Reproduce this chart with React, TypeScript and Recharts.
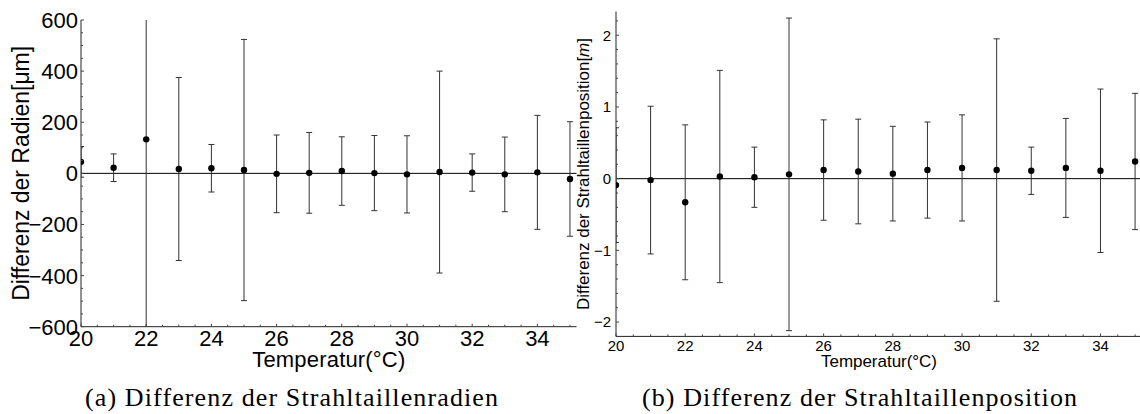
import React from 'react';
import { ScatterChart, Scatter, XAxis, YAxis, ErrorBar, ReferenceLine } from 'recharts';

// temperatures (°C)
const temps = [20, 21, 22, 23, 24, 25, 26, 27, 28, 29, 30, 31, 32, 33, 34, 35];

// (a) difference of waist radii [µm] and its error
const radiusDiff = [45, 22, 133, 17, 20, 13, -2, 2, 9, 1, -4, 5, 3, -4, 4, -22];
const radiusErr = [60, 54, 800, 358, 93, 511, 152, 158, 134, 147, 151, 395, 73, 146, 223, 224];

// (b) difference of waist position [m] and its error
const positionDiff = [-0.09, -0.02, -0.33, 0.03, 0.02, 0.06, 0.12, 0.1, 0.07, 0.12, 0.15, 0.12, 0.11, 0.15, 0.11, 0.24];
const positionErr = [0.8, 1.03, 1.08, 1.48, 0.42, 2.18, 0.7, 0.73, 0.66, 0.67, 0.74, 1.83, 0.33, 0.69, 1.14, 0.95];

// tick labels
const xMajor = [20, 22, 24, 26, 28, 30, 32, 34];
const radiusMajor = [-600, -400, -200, 0, 200, 400, 600];
const positionMajor = [-2, -1, 0, 1, 2];

const xTicks = Array.from({ length: 31 }, (_, i) => 20 + i * 0.5);
const radiusTicks = Array.from({ length: 25 }, (_, i) => -600 + i * 50);
const positionTicks = Array.from({ length: 23 }, (_, i) => Math.round((-2.2 + i * 0.2) * 10) / 10);

const radiusData = temps.map((t, i) => ({ t, y: radiusDiff[i], err: radiusErr[i] }));
const positionData = temps.map((t, i) => ({ t, y: positionDiff[i], err: positionErr[i] }));

// plot areas (page pixels)
const H = 414;
const left = { x0: 0, w: 590, px: 81, py: 20, pw: 495.5, ph: 306.7, axisH: 40 };
const right = { x0: 560, w: 582, px: 56, py: 11.6, pw: 526, ph: 324.8, axisH: 40 };

const SANS = '"Liberation Sans", Arial, sans-serif';
const fmt = (v: number) => (v < 0 ? '\u2212' + Math.abs(v) : String(v));

const Dot = (props: any) => <circle cx={props.cx} cy={props.cy} r={3.2} fill="#000" />;

const makeXTick = (major: number[], fontSize: number, base: number) => (props: any) => {
  const { x, y, payload } = props;
  const isMajor = major.includes(payload.value);
  return (
    <g>
      <line x1={x} x2={x} y1={y} y2={y - (isMajor ? 3 : 2)} stroke="#444" />
      {isMajor && (
        <text x={x} y={y + base} textAnchor="middle" fontSize={fontSize} fontFamily={SANS} fill="#000">
          {fmt(payload.value)}
        </text>
      )}
    </g>
  );
};

const makeYTick = (major: number[], fontSize: number, gap: number) => (props: any) => {
  const { x, y, payload } = props;
  const isMajor = major.includes(payload.value);
  return (
    <g>
      <line x1={x} x2={x + (isMajor ? 3 : 2)} y1={y} y2={y} stroke="#444" />
      {isMajor && (
        <text x={x - gap} y={y + fontSize * 0.36} textAnchor="end" fontSize={fontSize} fontFamily={SANS} fill="#000">
          {fmt(payload.value)}
        </text>
      )}
    </g>
  );
};

const xTitle = (text: string, fontSize: number, base: number, len: number) => (props: any) => {
  const vb = props.viewBox;
  return (
    <text x={vb.x + vb.width / 2} y={vb.y + base} textAnchor="middle" fontSize={fontSize} fontFamily={SANS}
      textLength={len} lengthAdjust="spacing" fill="#000">
      {text}
    </text>
  );
};

const yTitle = (text: React.ReactNode, fontSize: number, bx: number, len: number) => (props: any) => {
  const vb = props.viewBox;
  const cy = vb.y + vb.height / 2;
  return (
    <text x={bx} y={cy} transform={`rotate(-90 ${bx} ${cy})`} textAnchor="middle" fontSize={fontSize}
      fontFamily={SANS} textLength={len} lengthAdjust="spacing" fill="#000">
      {text}
    </text>
  );
};

const clipCss = ['radius', 'position']
  .map(n => `.${n}-chart .recharts-scatter, .${n}-chart .recharts-errorBars, .${n}-chart .recharts-errorBar { clip-path: url(#${n}-plot-clip); }`)
  .join('\n');

const App = () => {
  return (
    <div style={{ position: 'absolute', left: 0, top: 0, width: 1140, height: H, overflow: 'hidden', background: '#fff' }}>
      <style>{clipCss}</style>
      <svg width={0} height={0} style={{ position: 'absolute' }}>
        <defs>
          <clipPath id="radius-plot-clip">
            <rect x={left.px} y={left.py} width={left.pw} height={left.ph} />
          </clipPath>
          <clipPath id="position-plot-clip">
            <rect x={right.px} y={right.py} width={right.pw} height={right.ph} />
          </clipPath>
        </defs>
      </svg>
      <div className="radius-chart" style={{ position: 'absolute', left: left.x0, top: 0 }}>
        <ScatterChart width={left.w} height={H}
          margin={{ top: left.py, right: left.w - left.px - left.pw, bottom: H - left.py - left.ph - left.axisH, left: 0 }}>
          <XAxis type="number" dataKey="t" domain={[20, 35.2]} ticks={xTicks} interval={0} allowDataOverflow
            height={left.axisH} tickSize={0} tickMargin={0} stroke="#222" tick={makeXTick(xMajor, 22, 19)}
            label={{ content: xTitle('Temperatur(°C)', 22, 40, 153) }} />
          <YAxis type="number" dataKey="y" domain={[-600, 600]} ticks={radiusTicks} interval={0} allowDataOverflow
            width={left.px} tickSize={0} tickMargin={0} stroke="#222" tick={makeYTick(radiusMajor, 22, 3)}
            label={{ content: yTitle('Differenz der Radien[\u03bcm]', 23, 29.5, 255) }} />
          <ReferenceLine y={0} stroke="#000" strokeWidth={1} />
          <Scatter data={radiusData} shape={Dot} isAnimationActive={false}>
            <ErrorBar dataKey="err" direction="y" width={3} stroke="#333" strokeWidth={1} isAnimationActive={false} />
          </Scatter>
        </ScatterChart>
      </div>
      <div className="position-chart" style={{ position: 'absolute', left: right.x0, top: 0 }}>
        <ScatterChart width={right.w} height={H}
          margin={{ top: right.py, right: right.w - right.px - right.pw, bottom: H - right.py - right.ph - right.axisH, left: 0 }}>
          <XAxis type="number" dataKey="t" domain={[20, 35.2]} ticks={xTicks} interval={0} allowDataOverflow
            height={right.axisH} tickSize={0} tickMargin={0} stroke="#222" tick={makeXTick(xMajor, 15, 14.6)}
            label={{ content: xTitle('Temperatur(°C)', 17, 30.5, 116) }} />
          <YAxis type="number" dataKey="y" domain={[-2.2, 2.33]} ticks={positionTicks} interval={0} allowDataOverflow
            width={right.px} tickSize={0} tickMargin={0} stroke="#222" tick={makeYTick(positionMajor, 15, 5)}
            label={{ content: yTitle(<>Differenz der Strahltaillenposition[<tspan fontStyle="italic">m</tspan>]</>, 17, 29, 272) }} />
          <ReferenceLine y={0} stroke="#000" strokeWidth={1} />
          <Scatter data={positionData} shape={Dot} isAnimationActive={false}>
            <ErrorBar dataKey="err" direction="y" width={3} stroke="#333" strokeWidth={1} isAnimationActive={false} />
          </Scatter>
        </ScatterChart>
      </div>
      <svg width={1140} height={H} style={{ position: 'absolute', left: 0, top: 0, pointerEvents: 'none' }}>
        <text x={291.5} y={406} textAnchor="middle" fontSize={26} fontFamily='"Liberation Serif", serif'
          textLength={413} lengthAdjust="spacing" fill="#000">
          (a) Differenz der Strahltaillenradien
        </text>
        <text x={859.5} y={406} textAnchor="middle" fontSize={26} fontFamily='"Liberation Serif", serif'
          textLength={435} lengthAdjust="spacing" fill="#000">
          (b) Differenz der Strahltaillenposition
        </text>
      </svg>
    </div>
  );
};

export default App;
